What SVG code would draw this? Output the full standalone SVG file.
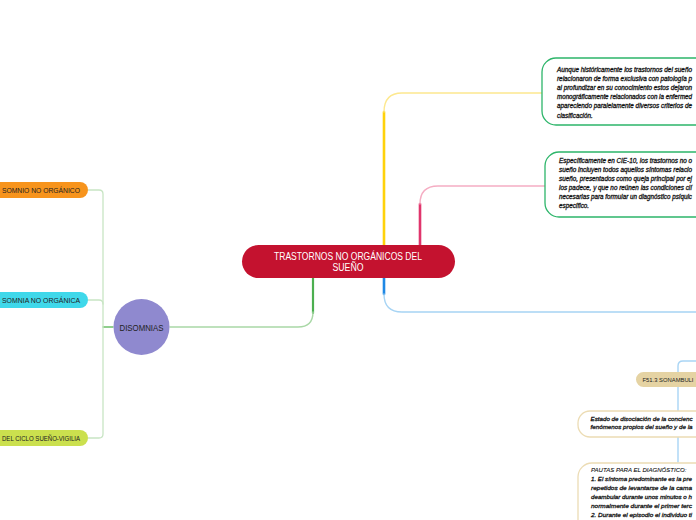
<svg xmlns="http://www.w3.org/2000/svg" width="696" height="520" viewBox="0 0 696 520">
<style>
.lbl{font-family:"Liberation Sans",Arial,sans-serif;fill:#222;}
.note{font-family:"Liberation Sans",Arial,sans-serif;font-style:italic;font-size:6.3px;fill:#111;stroke:#111;stroke-width:0.28px;}
.small{font-size:6.05px;}
.box-g{fill:#fff;stroke:#2db56a;stroke-width:1.3;}
.box-t{fill:#fff;stroke:#ecdcb4;stroke-width:1.3;}
.c{fill:none;stroke-linecap:round;}
</style>
<rect width="696" height="520" fill="#fff"/>
<g id="connectors">
  <path class="c" d="M313,278 V313" stroke="#4caf50" stroke-width="2.2"/>
  <path class="c" d="M313,312 Q313,327 298,327 H170" stroke="#a9d8a6" stroke-width="1.4"/>
  <path class="c" d="M113,327 H103" stroke="#6cbf68" stroke-width="1.3"/>
  <path class="c" d="M88,190 H99 Q103,190 103,194 V434 Q103,438 99,438 H88" stroke="#c8e5c4" stroke-width="1.3"/>
  <path class="c" d="M88,300 H99 Q103,300 103,304" stroke="#c8e5c4" stroke-width="1.3"/>
  <path class="c" d="M384,245 V112" stroke="#ffd20a" stroke-width="2.6"/>
  <path class="c" d="M384,112 Q384,93 402,93 H542" stroke="#fde88e" stroke-width="1.4"/>
  <path class="c" d="M420,245 V204" stroke="#e0356c" stroke-width="2.6"/>
  <path class="c" d="M420,204 Q420,186 438,186 H545" stroke="#f5adc3" stroke-width="1.4"/>
  <path class="c" d="M384,278 V294" stroke="#1e88e5" stroke-width="2.6"/>
  <path class="c" d="M384,294 Q384,312 402,312 H696" stroke="#a7d4f4" stroke-width="1.4"/>
  <path class="c" d="M696,361 H683 Q678,361 678,366 V462" stroke="#a9d5f5" stroke-width="1.4"/>
</g>
<g id="center">
  <rect x="242" y="245" width="213" height="33" rx="16.5" fill="#c4122f"/>
  <text class="lbl" x="348" y="260" font-size="10" text-anchor="middle" style="fill:#fff" textLength="148" lengthAdjust="spacingAndGlyphs">TRASTORNOS NO ORGÁNICOS DEL</text>
  <text class="lbl" x="348" y="270.5" font-size="10" text-anchor="middle" style="fill:#fff" textLength="31" lengthAdjust="spacingAndGlyphs">SUEÑO</text>
</g>
<g id="disomnias">
  <circle cx="141.5" cy="327" r="28" fill="#8f89cf"/>
  <text class="lbl" x="141.5" y="330.5" font-size="9.5" text-anchor="middle" textLength="44" lengthAdjust="spacingAndGlyphs">DISOMNIAS</text>
</g>
<g id="insomnio">
  <path d="M0,182 H80 A8,8 0 0 1 80,198 H0 Z" fill="#f7941d"/>
  <text class="lbl" x="2" y="192.5" font-size="7.2" textLength="78" lengthAdjust="spacingAndGlyphs">SOMNIO NO ORGÁNICO</text>
</g>
<g id="hipersomnia">
  <path d="M0,292 H80 A8,8 0 0 1 80,308 H0 Z" fill="#3fd8ea"/>
  <text class="lbl" x="2" y="302.5" font-size="7.2" textLength="78" lengthAdjust="spacingAndGlyphs">SOMNIA NO ORGÁNICA</text>
</g>
<g id="ciclo">
  <path d="M0,430 H80 A8,8 0 0 1 80,446 H0 Z" fill="#cbe04e"/>
  <text class="lbl" x="2" y="440.5" font-size="7.2" textLength="78" lengthAdjust="spacingAndGlyphs">DEL CICLO SUEÑO-VIGILIA</text>
</g>
<g id="nota1">
  <path class="box-g" d="M696,58 H556 A14,14 0 0 0 542,72 V111 A14,14 0 0 0 556,125 H696"/>
  <text class="note" x="557" y="71.5" textLength="135" lengthAdjust="spacingAndGlyphs">Aunque históricamente los trastornos del sueño</text>
  <text class="note" x="557" y="80.7" textLength="135" lengthAdjust="spacingAndGlyphs">relacionaron de forma exclusiva con patología p</text>
  <text class="note" x="557" y="89.9" textLength="135" lengthAdjust="spacingAndGlyphs">al profundizar en su conocimiento estos dejaron</text>
  <text class="note" x="557" y="99.1" textLength="135" lengthAdjust="spacingAndGlyphs">monográficamente relacionados con la enfermed</text>
  <text class="note" x="557" y="108.3" textLength="135" lengthAdjust="spacingAndGlyphs">apareciendo paralelamente diversos criterios de</text>
  <text class="note" x="557" y="117.5">clasificación.</text>
</g>
<g id="nota2">
  <path class="box-g" d="M696,152 H559 A14,14 0 0 0 545,166 V203 A14,14 0 0 0 559,217 H696"/>
  <text class="note" x="559" y="163.3" textLength="133" lengthAdjust="spacingAndGlyphs">Específicamente en CIE-10, los trastornos no o</text>
  <text class="note" x="559" y="172.3" textLength="133" lengthAdjust="spacingAndGlyphs">sueño incluyen todos aquellos síntomas relacio</text>
  <text class="note" x="559" y="181.3" textLength="133" lengthAdjust="spacingAndGlyphs">sueño, presentados como queja principal por ej</text>
  <text class="note" x="559" y="190.3" textLength="133" lengthAdjust="spacingAndGlyphs">los padece, y que no reúnen las condiciones clí</text>
  <text class="note" x="559" y="199.3" textLength="133" lengthAdjust="spacingAndGlyphs">necesarias para formular un diagnóstico psíquic</text>
  <text class="note" x="559" y="208.3">específico.</text>
</g>
<g id="sonambulismo">
  <path d="M696,372 H643.5 A7.5,7.5 0 0 0 643.5,387 H696 Z" fill="#e5d3a3"/>
  <text class="lbl" x="642.5" y="382" font-size="6" textLength="51" lengthAdjust="spacingAndGlyphs">F51.3 SONAMBULI</text>
</g>
<g id="estado">
  <path class="box-t" d="M696,411 H590 A12,12 0 0 0 578,423 V425 A12,12 0 0 0 590,437 H696"/>
  <text class="note small" x="590.5" y="420.6" textLength="102" lengthAdjust="spacingAndGlyphs">Estado de disociación de la concienc</text>
  <text class="note small" x="590.5" y="429" textLength="102" lengthAdjust="spacingAndGlyphs">fenómenos propios del sueño y de la</text>
</g>
<g id="pautas">
  <path class="box-t" d="M696,463 H592 A14,14 0 0 0 578,477 V520"/>
  <text class="note small" x="591" y="472.3" style="stroke-width:0.1px">PAUTAS PARA EL DIAGNÓSTICO:</text>
  <text class="note small" x="591" y="481.3" textLength="101" lengthAdjust="spacingAndGlyphs">1. El síntoma predominante es la pre</text>
  <text class="note small" x="591" y="490.3" textLength="101" lengthAdjust="spacingAndGlyphs">repetidos de levantarse de la cama</text>
  <text class="note small" x="591" y="499.3" textLength="101" lengthAdjust="spacingAndGlyphs">deambular durante unos minutos o h</text>
  <text class="note small" x="591" y="508.3" textLength="101" lengthAdjust="spacingAndGlyphs">normalmente durante el primer terc</text>
  <text class="note small" x="591" y="516.8" textLength="101" lengthAdjust="spacingAndGlyphs">2. Durante el episodio el individuo ti</text>
</g>
</svg>
